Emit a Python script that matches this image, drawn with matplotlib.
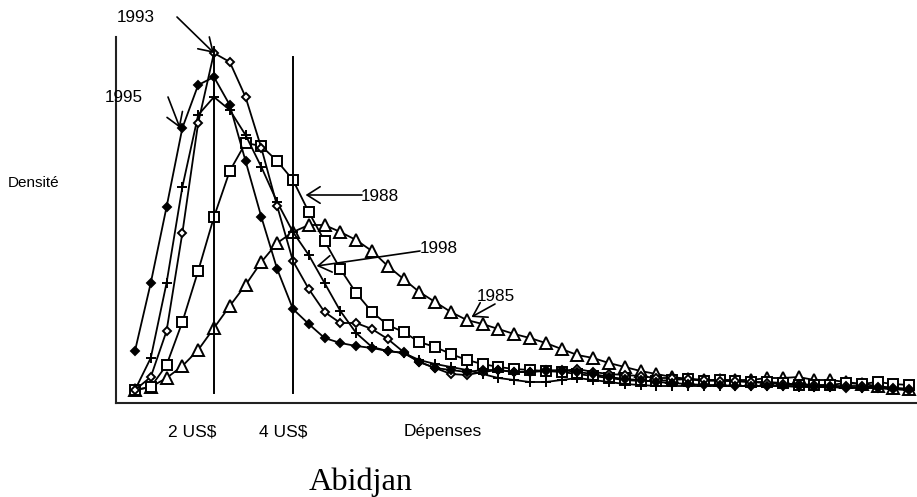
import matplotlib
matplotlib.use("Agg")
import matplotlib.pyplot as plt
import numpy as np

W, H = 917, 497

# Expenditure classes (index of bin, evenly spaced)
classes = list(range(50))

# Density values (arbitrary units)
dens_1985 = [13, 16, 25, 37, 53, 75, 97, 118, 141, 160, 171, 178, 178, 171, 163, 152, 137, 124, 111, 101,
             91, 83, 79, 74, 69, 65, 60, 54, 48, 45, 40, 36, 32, 29, 26, 24, 23, 23, 23, 23,
             25, 25, 26, 23, 23, 21, 19, 17, 15, 14]
dens_1988 = [13, 16, 38, 81, 132, 186, 232, 260, 257, 242, 223, 191, 162, 134, 110, 91, 78, 71, 61, 56,
             49, 43, 39, 36, 34, 33, 32, 31, 29, 27, 25, 23, 22, 22, 23, 24, 22, 23, 22, 21,
             21, 20, 18, 18, 18, 20, 19, 21, 19, 18]
dens_1993 = [13, 26, 72, 170, 280, 350, 341, 306, 255, 197, 142, 114, 91, 80, 80, 74, 64, 51, 41, 35,
             29, 28, 31, 33, 31, 31, 33, 32, 34, 31, 29, 28, 27, 25, 25, 24, 23, 22, 22, 21,
             20, 19, 19, 18, 17, 17, 17, 16, 15, 14]
dens_1995 = [52, 120, 196, 275, 318, 326, 298, 242, 186, 134, 94, 79, 65, 60, 57, 55, 52, 50, 41, 35,
             33, 31, 33, 33, 31, 31, 32, 33, 31, 29, 26, 24, 23, 21, 20, 19, 18, 18, 17, 17,
             17, 17, 17, 16, 16, 15, 15, 15, 14, 13]
dens_1998 = [13, 45, 120, 216, 288, 306, 293, 268, 236, 201, 171, 148, 120, 92, 70, 56, 52, 50, 43, 39,
             36, 33, 29, 25, 23, 21, 21, 23, 25, 23, 21, 19, 18, 17, 17, 17, 17, 17, 17, 17,
             17, 17, 16, 16, 16, 16, 15, 15, 14, 13]

# Poverty lines (positions on the class axis) and their labels
pov_lines = [5, 10]
pov_labels = ["2 US$", "4 US$"]
pov_tops = [356, 346]

fig = plt.figure(figsize=(W / 100, H / 100), dpi=100)
fig.patch.set_facecolor("white")
ax = fig.add_axes([116 / W, (H - 403) / H, (W - 116) / W, 366 / H])
ax.set_xlim(-1.2, 49.5)
ax.set_ylim(0, 366)
ax.set_xticks([])
ax.set_yticks([])
for s in ["top", "right"]:
    ax.spines[s].set_visible(False)
for s in ["left", "bottom"]:
    ax.spines[s].set_linewidth(1.5)
    ax.spines[s].set_color("#222222")

lw = 1.3
common = dict(color="black", lw=lw, mec="black", mew=1.4, clip_on=False)
ax.plot(classes, dens_1985, marker="^", ms=8, mfc="white", **common)
ax.plot(classes, dens_1988, marker="s", ms=7.2, mfc="white", **common)
ax.plot(classes, dens_1998, marker="+", ms=7.5, mfc="white", **common)
ax.plot(classes, dens_1993, marker="D", ms=4.3, mfc="white", **common)
ax.plot(classes, dens_1995, marker="D", ms=3.6, mfc="black", **common)

for xv, top in zip(pov_lines, pov_tops):
    ax.plot([xv, xv], [10, top], color="black", lw=1.4)

def fp(x, y):
    return (x, H - y)

font = ["Liberation Sans", "DejaVu Sans"]
# Series labels with arrows
labels = [("1993", (136, 22), (177, 17), (5.0, 350)),
          ("1995", (124, 102), (168, 97), (2.85, 275)),
          ("1988", (380, 201), (362, 195), (10.8, 208)),
          ("1998", (439, 253), (420, 251), (11.5, 137)),
          ("1985", (496, 301), (495, 304), (21.3, 86))]
for txt, tpos, tail, tip in labels:
    fig.text(tpos[0] / W, 1 - tpos[1] / H, txt, ha="center", va="baseline",
             fontsize=12.3, family=font)
    ax.annotate("", xy=tip, xycoords="data", xytext=fp(*tail), textcoords="figure pixels",
                arrowprops=dict(arrowstyle="->,head_length=0.55,head_width=0.35", color="black",
                                lw=1.2, mutation_scale=17, shrinkA=0, shrinkB=0))

fig.text(34 / W, 1 - 186.5 / H, "Densité", ha="center", va="baseline", fontsize=11, family=font)
for lab, xc in zip(pov_labels, [192, 283]):
    fig.text(xc / W, 1 - 436 / H, lab, ha="center", va="baseline", fontsize=12.5, family=font)
fig.text(443 / W, 1 - 436 / H, "Dépenses", ha="center", va="baseline", fontsize=12.5, family=font)
fig.text(361 / W, 1 - 490 / H, "Abidjan", ha="center", va="baseline", fontsize=23.3,
         family=["Liberation Serif", "DejaVu Serif"])

fig.savefig("out.png", dpi=100)
